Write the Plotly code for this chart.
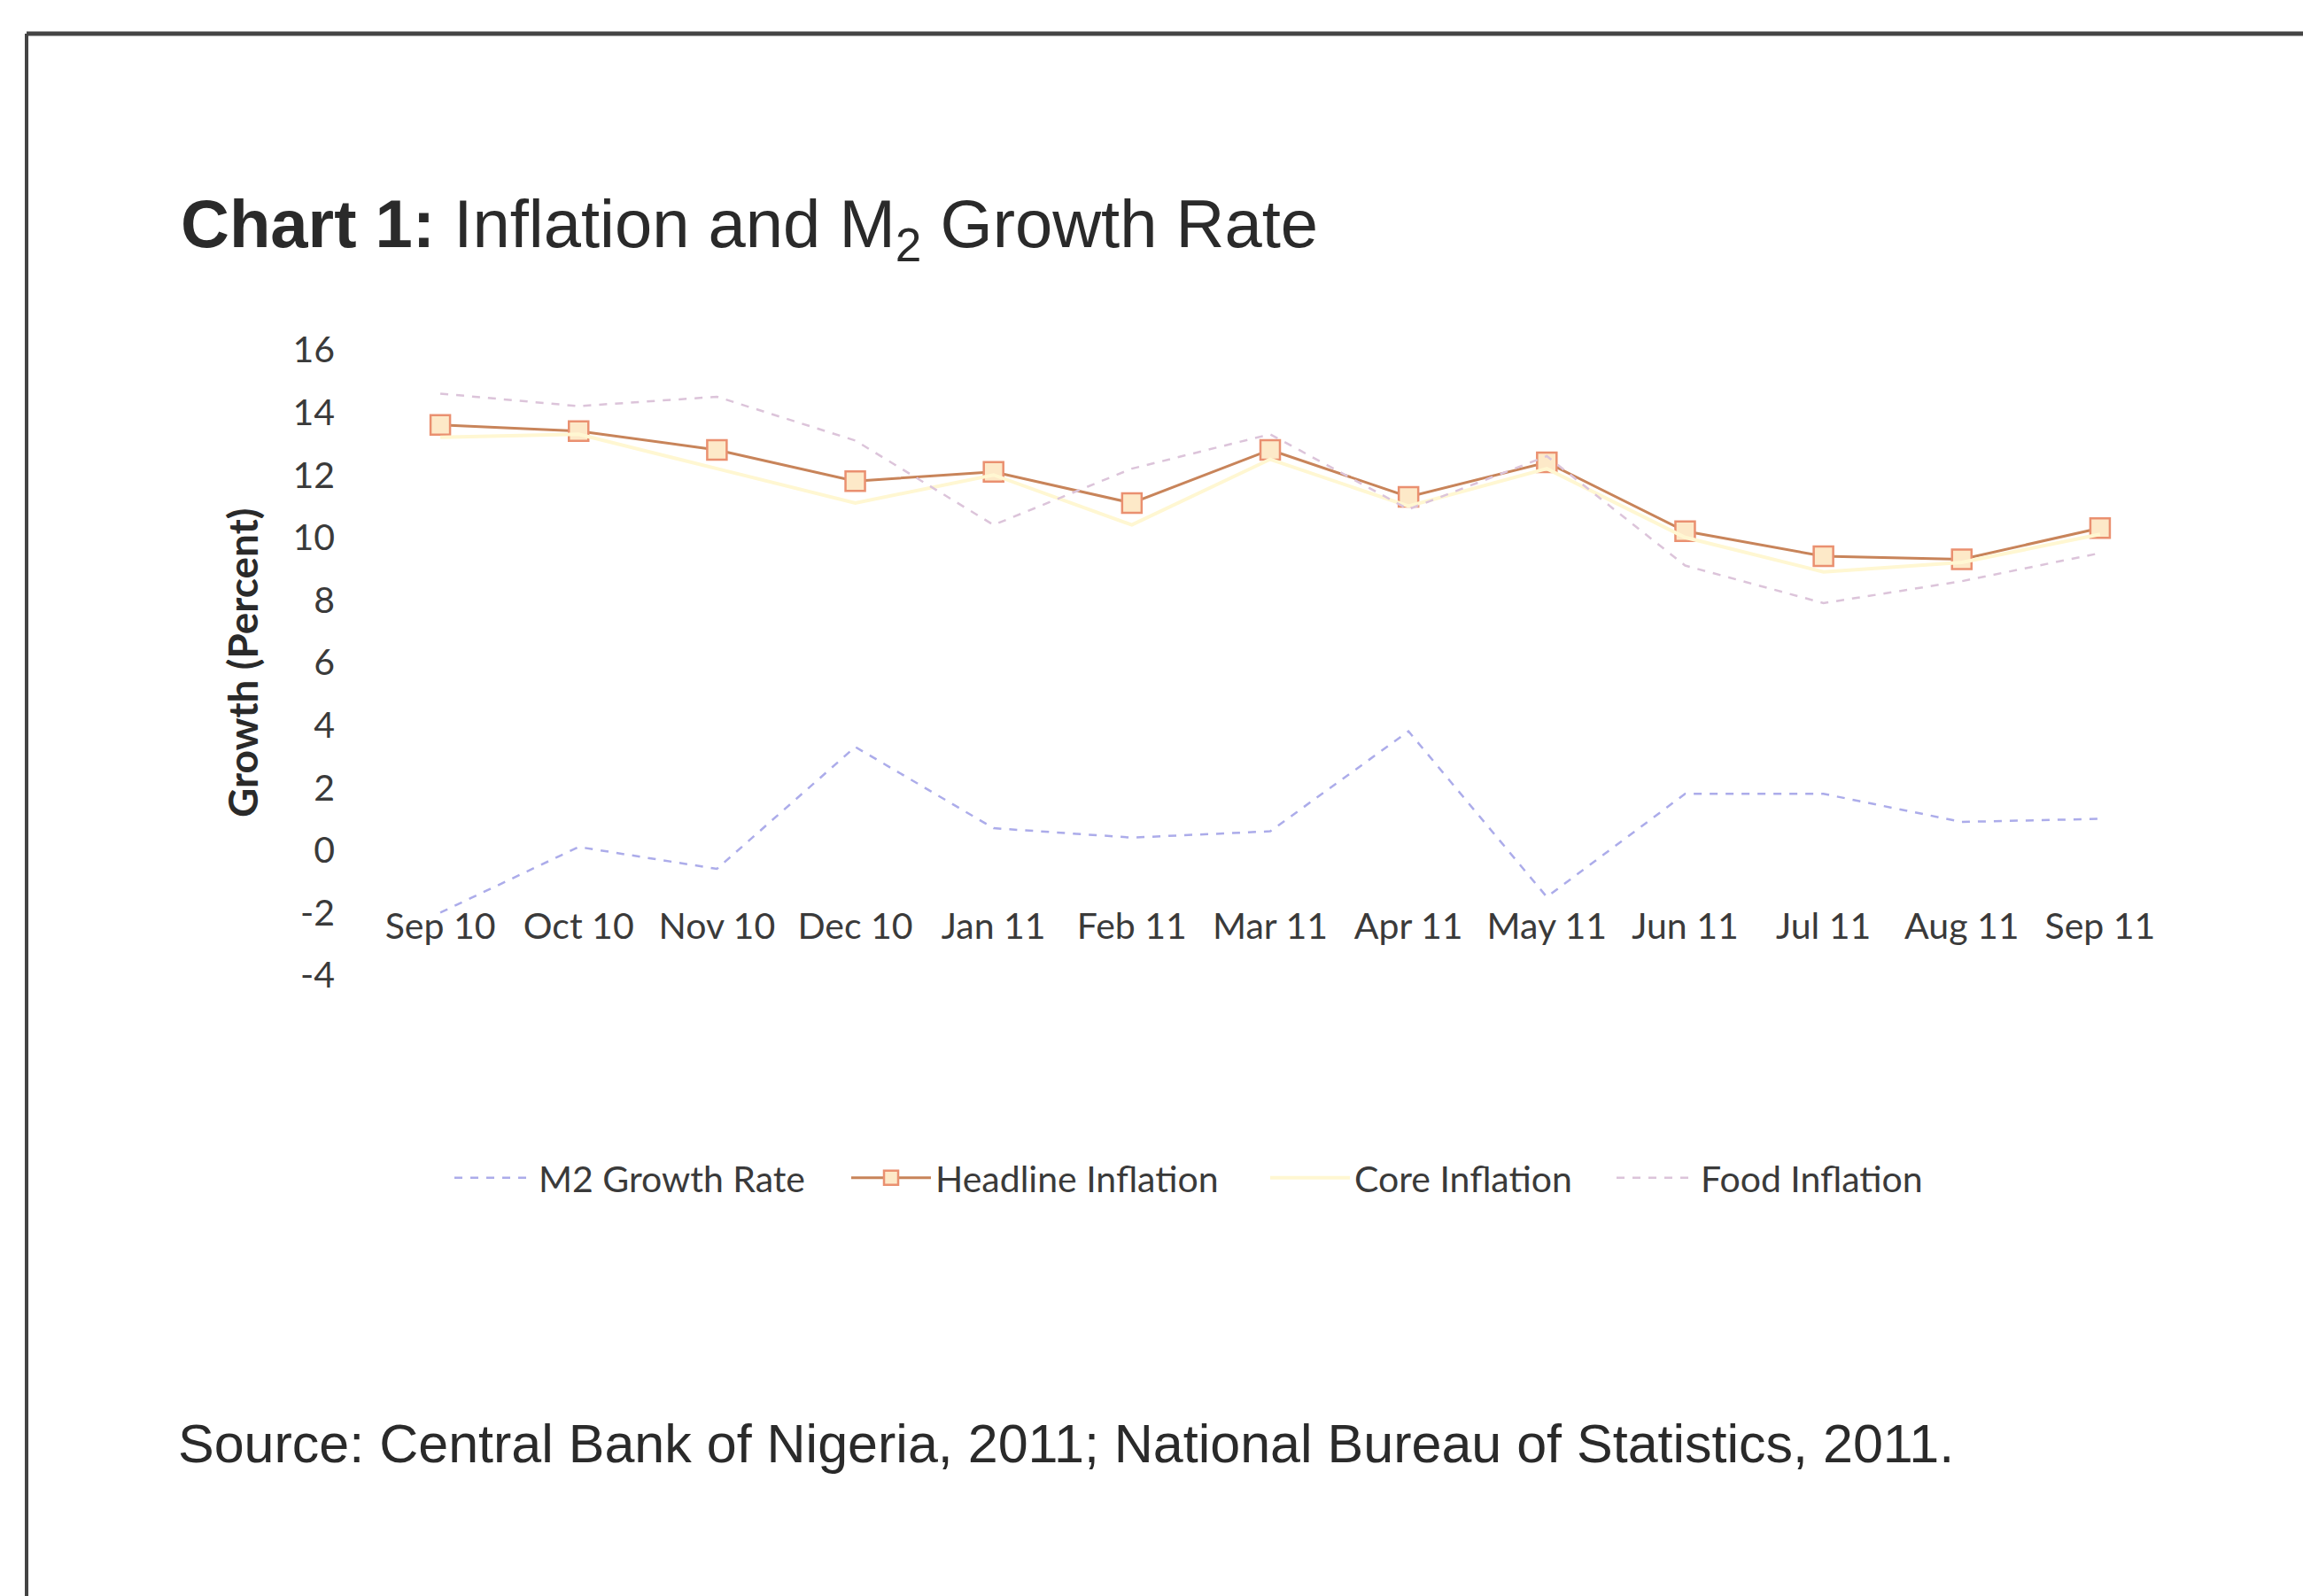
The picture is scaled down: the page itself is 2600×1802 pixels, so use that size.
import plotly.graph_objects as go

# Monthly observations, Sep 2010 - Sep 2011
months = ["Sep 10", "Oct 10", "Nov 10", "Dec 10", "Jan 11", "Feb 11", "Mar 11",
          "Apr 11", "May 11", "Jun 11", "Jul 11", "Aug 11", "Sep 11"]
m2_growth = [-2.0, 0.1, -0.6, 3.3, 0.7, 0.4, 0.6, 3.8, -1.5, 1.8, 1.8, 0.9, 1.0]
headline_inflation = [13.6, 13.4, 12.8, 11.8, 12.1, 11.1, 12.8, 11.3, 12.4, 10.2, 9.4, 9.3, 10.3]
core_inflation = [13.2, 13.3, 12.2, 11.1, 12.0, 10.4, 12.5, 11.0, 12.2, 10.0, 8.9, 9.2, 10.1]
food_inflation = [14.6, 14.2, 14.5, 13.1, 10.4, 12.2, 13.3, 10.9, 12.6, 9.1, 7.9, 8.6, 9.5]
y_ticks = [-4, -2, 0, 2, 4, 6, 8, 10, 12, 14, 16]

W, H = 2600, 1802
L, R, T, B = 419, 2449, 395, 1101          # plot area in pixels


def px_x(p):
    return (p - L) / (R - L)


def px_y(p):
    return (B - p) / (B - T)


label_font = dict(family="Lato, Open Sans, sans-serif", size=41, color="#3a3a3a")

fig = go.Figure()
fig.add_trace(go.Scatter(
    x=months, y=m2_growth, name="M2 Growth Rate", mode="lines",
    line=dict(color="#acacea", width=2.5, dash="dash"), legend="legend"))
fig.add_trace(go.Scatter(
    x=months, y=headline_inflation, name="Headline Inflation", mode="lines+markers",
    line=dict(color="#c8845a", width=3),
    marker=dict(symbol="square", size=22, color="#fde9c8",
                line=dict(color="#ea9070", width=2.5)),
    legend="legend2"))
fig.add_trace(go.Scatter(
    x=months, y=core_inflation, name="Core Inflation", mode="lines",
    line=dict(color="#fff7d2", width=4), legend="legend3"))
fig.add_trace(go.Scatter(
    x=months, y=food_inflation, name="Food Inflation", mode="lines",
    line=dict(color="#dcc4da", width=2.5, dash="dash"), legend="legend4"))

legend_base = dict(orientation="h", xref="container", yref="container",
                   yanchor="middle", xanchor="left", font=label_font,
                   bgcolor="rgba(0,0,0,0)", itemwidth=90)
legend_y = 1 - 1330 / H
fig.update_layout(
    legend=dict(legend_base, x=508 / W, y=legend_y),
    legend2=dict(legend_base, x=956 / W, y=legend_y),
    legend3=dict(legend_base, x=1429 / W, y=legend_y),
    legend4=dict(legend_base, x=1820 / W, y=legend_y),
)

fig.update_layout(
    width=W, height=H,
    margin=dict(l=L, r=W - R, t=T, b=H - B, pad=0),
    paper_bgcolor="white", plot_bgcolor="white",
    showlegend=True,
    title=dict(
        text="<b>Chart 1:</b> Inflation and M<sub>2</sub> Growth Rate",
        xref="container", yref="container", x=204 / W, y=1 - 252 / H,
        xanchor="left", yanchor="middle",
        font=dict(family="Liberation Sans, Arial, sans-serif", size=76, color="#2a2a2a")),
    xaxis=dict(
        type="category", range=[-0.5, 12.5], anchor="free", position=(-1.65 + 4) / 20,
        showline=False, showgrid=False, zeroline=False, ticks="",
        tickfont=label_font, tickangle=0, fixedrange=True),
    yaxis=dict(
        range=[-4, 16], tickvals=y_ticks, ticktext=[str(v) for v in y_ticks],
        showline=False, showgrid=False,
        zeroline=False, ticks="", ticklabelstandoff=40, tickfont=label_font,
        fixedrange=True),
)

# Rotated axis caption
fig.add_annotation(
    text="<b>Growth (Percent)</b>", textangle=-90,
    xref="paper", yref="paper", x=px_x(273), y=px_y(748),
    xanchor="center", yanchor="middle", showarrow=False,
    font=dict(family="Lato, Open Sans, sans-serif", size=46, color="#2a2a2a"))

# Source note
fig.add_annotation(
    text="Source: Central Bank of Nigeria, 2011; National Bureau of Statistics, 2011.",
    xref="paper", yref="paper", x=px_x(199), y=px_y(1630),
    xanchor="left", yanchor="middle", showarrow=False,
    font=dict(family="Liberation Sans, Arial, sans-serif", size=61, color="#2a2a2a"))

# Page frame: top rule and left rule
fig.add_shape(type="line", xref="paper", yref="paper",
              x0=px_x(30), x1=px_x(W), y0=px_y(38), y1=px_y(38),
              line=dict(color="#444444", width=5))
fig.add_shape(type="line", xref="paper", yref="paper",
              x0=px_x(30), x1=px_x(30), y0=px_y(38), y1=px_y(H),
              line=dict(color="#444444", width=4))

fig.write_html("out.html")
